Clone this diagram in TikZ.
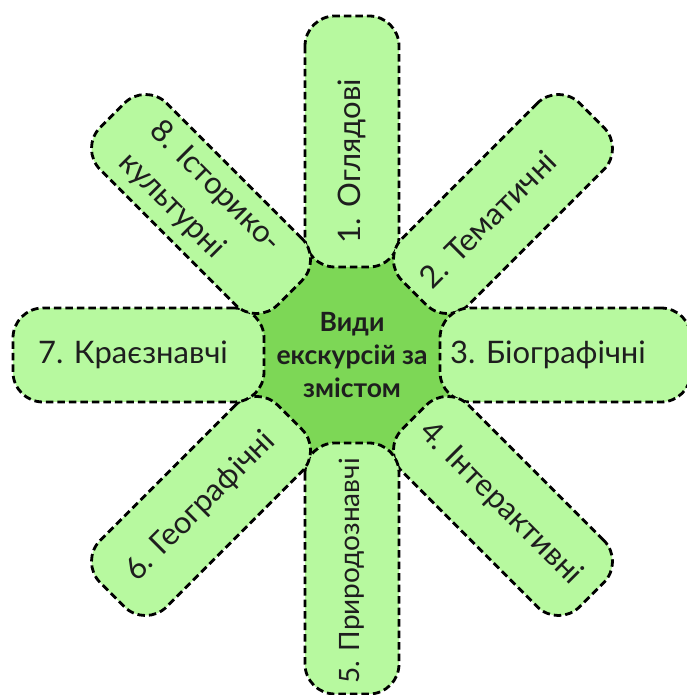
\documentclass[tikz,border=0pt]{standalone}
\usepackage{fontspec}
\setmainfont{Lato}
\definecolor{petalgreen}{HTML}{B7F99F}
\definecolor{hubgreen}{HTML}{7DD756}
\definecolor{inkdark}{HTML}{1E1E1E}
\tikzset{
  petalbox/.style={
    draw=black,
    fill=petalgreen,
    line width=2.8pt,
    dash pattern=on 7.5pt off 4pt,
    rounded corners=30pt,
    minimum width=251pt,
    minimum height=94pt,
    inner sep=0pt
  },
  petaltext/.style={
    font=\fontsize{31}{44}\selectfont,
    text=inkdark,
    align=left,
    inner sep=0pt
  },
  hubdisc/.style={
    circle,
    fill=hubgreen,
    minimum size=232pt,
    align=center,
    inner sep=0pt,
    font=\bfseries\fontsize{26.5}{33}\selectfont,
    text=inkdark
  }
}

\begin{document}
\begin{tikzpicture}
\useasboundingbox (-352pt,-340pt) rectangle (334pt,355pt);

% centre
\node[hubdisc] (hub) at (0,0) {Види\\екскурсій за\\змістом};

% petals, drawn in order so that each one lies over the one before
\node[petalbox, rotate=90] (p1) at (90:213.5pt) {};
\node[petalbox, rotate=45] (p2) at (45:213.5pt) {};
\node[petalbox] (p3) at (0:213.5pt) {};
\node[petalbox, rotate=-45] (p4) at (-45:213.5pt) {};
\node[petalbox, rotate=90] (p5) at (-90:213.5pt) {};
\node[petalbox, rotate=45] (p6) at (225:213.5pt) {};
\node[petalbox] (p7) at (180:213.5pt) {};
\node[petalbox, rotate=-45] (p8) at (135:213.5pt) {};

% petal labels
\node[petaltext, rotate=90] (l1) at (90:194pt) {1. Оглядові};
\node[petaltext, rotate=45] (l2) at (45:192pt) {2. Тематичні};
\node[petaltext] (l3) at (0:196pt) {3. Біографічні};
\node[petaltext, rotate=-45] (l4) at (-45:210pt) {4. Інтерактивні};
\node[petaltext, rotate=90, font=\fontsize{28}{40}\selectfont] (l5) at (-90:216pt) {5. Природознавчі};
\node[petaltext, rotate=45] (l6) at (225:214pt) {6. Географічні};
\node[petaltext] (l7) at (180:219pt) {7. Краєзнавчі};
\node[petaltext, rotate=-45] (l8) at (135:215pt) {8. Історико-\\культурні};
\end{tikzpicture}
\end{document}
